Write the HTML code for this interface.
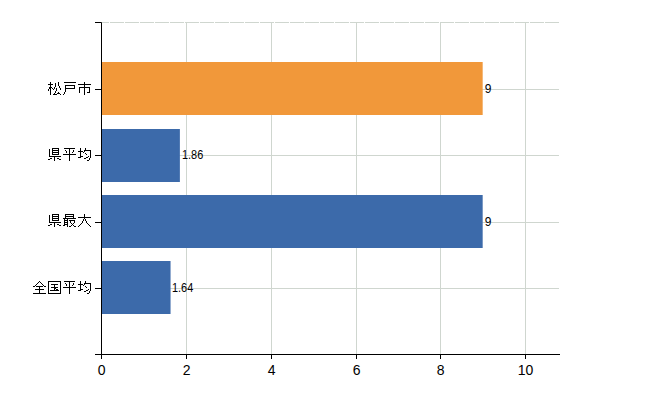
<!DOCTYPE html>
<html><head><meta charset="utf-8"><style>
html,body{margin:0;padding:0;background:#fff;width:650px;height:400px;overflow:hidden}
svg{display:block}
.ax{font-family:"Liberation Sans",sans-serif;font-size:14px;fill:#000}
.vl{font-family:"Liberation Sans",sans-serif;font-size:12px;fill:#000}
line{shape-rendering:crispEdges}
.cj{shape-rendering:crispEdges}
</style></head><body>
<svg width="650" height="400" viewBox="0 0 650 400">
<rect width="650" height="400" fill="#fff"/>
<line x1="186.5" y1="22" x2="186.5" y2="354" stroke="#cfd6cf" />
<line x1="271.5" y1="22" x2="271.5" y2="354" stroke="#cfd6cf" />
<line x1="356.5" y1="22" x2="356.5" y2="354" stroke="#cfd6cf" />
<line x1="440.5" y1="22" x2="440.5" y2="354" stroke="#cfd6cf" />
<line x1="525.5" y1="22" x2="525.5" y2="354" stroke="#cfd6cf" />
<line x1="95" y1="22.5" x2="559" y2="22.5" stroke="#cfd6cf" stroke-dasharray="14 1" />
<line x1="101" y1="89.5" x2="559" y2="89.5" stroke="#cfd6cf" />
<line x1="101" y1="155.5" x2="559" y2="155.5" stroke="#cfd6cf" />
<line x1="101" y1="222.5" x2="559" y2="222.5" stroke="#cfd6cf" />
<line x1="101" y1="288.5" x2="559" y2="288.5" stroke="#cfd6cf" />
<rect x="101" y="62" width="381.67" height="53" fill="#f1983a" />
<rect x="101" y="129" width="78.88" height="53" fill="#3c6aaa" />
<rect x="101" y="195" width="381.67" height="53" fill="#3c6aaa" />
<rect x="101" y="261" width="69.55" height="53" fill="#3c6aaa" />
<path d="M95,22.5H101.5V354.5H95" fill="none" stroke="#000" />
<path d="M101,354.5H560" fill="none" stroke="#000" />
<line x1="101.5" y1="354" x2="101.5" y2="359" stroke="#000" />
<text x="101.6" y="375" text-anchor="middle" class="ax">0</text>
<line x1="186.5" y1="354" x2="186.5" y2="359" stroke="#000" />
<text x="186.6" y="375" text-anchor="middle" class="ax">2</text>
<line x1="271.5" y1="354" x2="271.5" y2="359" stroke="#000" />
<text x="271.6" y="375" text-anchor="middle" class="ax">4</text>
<line x1="356.5" y1="354" x2="356.5" y2="359" stroke="#000" />
<text x="356.6" y="375" text-anchor="middle" class="ax">6</text>
<line x1="440.5" y1="354" x2="440.5" y2="359" stroke="#000" />
<text x="440.6" y="375" text-anchor="middle" class="ax">8</text>
<line x1="525.5" y1="354" x2="525.5" y2="359" stroke="#000" />
<text x="525.6" y="375" text-anchor="middle" class="ax">10</text>
<line x1="95" y1="89.5" x2="101" y2="89.5" stroke="#000" />
<path class="cj" d="M50,82h1v1h-1zM58,82h1v1h-1zM50,83h1v1h-1zM55,83h1v1h-1zM58,83h1v1h-1zM48,84h5v1h-5zM55,84h1v1h-1zM58,84h1v1h-1zM50,85h1v1h-1zM55,85h1v1h-1zM58,85h1v1h-1zM50,86h1v1h-1zM55,86h1v1h-1zM59,86h1v1h-1zM49,87h3v1h-3zM54,87h1v1h-1zM59,87h1v1h-1zM49,88h2v1h-2zM52,88h1v1h-1zM54,88h1v1h-1zM56,88h1v1h-1zM60,88h1v1h-1zM48,89h1v1h-1zM50,89h1v1h-1zM53,89h1v1h-1zM56,89h1v1h-1zM60,89h1v1h-1zM48,90h1v1h-1zM50,90h1v1h-1zM56,90h1v1h-1zM50,91h1v1h-1zM55,91h1v1h-1zM50,92h1v1h-1zM55,92h1v1h-1zM58,92h1v1h-1zM50,93h1v1h-1zM54,93h1v1h-1zM57,93h3v1h-3zM50,94h1v1h-1zM53,94h4v1h-4zM60,94h1v1h-1z" fill="#000"/>
<path class="cj" d="M64,82h12v1h-12zM65,85h10v1h-10zM65,86h1v1h-1zM74,86h1v1h-1zM65,87h1v1h-1zM74,87h1v1h-1zM65,88h10v1h-10zM65,89h1v1h-1zM65,90h1v1h-1zM65,91h1v1h-1zM64,92h1v1h-1zM64,93h1v1h-1zM63,94h1v1h-1z" fill="#000"/>
<path class="cj" d="M84,82h1v1h-1zM84,83h1v1h-1zM78,84h13v1h-13zM84,85h1v1h-1zM84,86h1v1h-1zM79,87h11v1h-11zM79,88h1v1h-1zM84,88h1v1h-1zM89,88h1v1h-1zM79,89h1v1h-1zM84,89h1v1h-1zM89,89h1v1h-1zM79,90h1v1h-1zM84,90h1v1h-1zM89,90h1v1h-1zM79,91h1v1h-1zM84,91h1v1h-1zM89,91h1v1h-1zM79,92h1v1h-1zM84,92h1v1h-1zM87,92h3v1h-3zM84,93h1v1h-1zM84,94h1v1h-1z" fill="#000"/>
<line x1="95" y1="155.5" x2="101" y2="155.5" stroke="#000" />
<path class="cj" d="M52,148h7v1h-7zM49,149h1v1h-1zM52,149h1v1h-1zM58,149h1v1h-1zM49,150h1v1h-1zM52,150h7v1h-7zM49,151h1v1h-1zM52,151h1v1h-1zM58,151h1v1h-1zM49,152h1v1h-1zM52,152h7v1h-7zM49,153h1v1h-1zM52,153h1v1h-1zM58,153h1v1h-1zM49,154h1v1h-1zM52,154h7v1h-7zM49,155h1v1h-1zM49,156h12v1h-12zM54,157h1v1h-1zM50,158h2v1h-2zM54,158h1v1h-1zM57,158h2v1h-2zM48,159h2v1h-2zM54,159h1v1h-1zM59,159h2v1h-2zM54,160h1v1h-1z" fill="#000"/>
<path class="cj" d="M64,148h11v1h-11zM69,149h1v1h-1zM65,150h1v1h-1zM69,150h1v1h-1zM73,150h1v1h-1zM66,151h1v1h-1zM69,151h1v1h-1zM73,151h1v1h-1zM66,152h1v1h-1zM69,152h1v1h-1zM72,152h1v1h-1zM69,153h1v1h-1zM63,154h13v1h-13zM69,155h1v1h-1zM69,156h1v1h-1zM69,157h1v1h-1zM69,158h1v1h-1zM69,159h1v1h-1zM69,160h1v1h-1z" fill="#000"/>
<path class="cj" d="M80,148h1v1h-1zM85,148h1v1h-1zM80,149h1v1h-1zM85,149h1v1h-1zM80,150h1v1h-1zM84,150h7v1h-7zM78,151h5v1h-5zM84,151h1v1h-1zM90,151h1v1h-1zM80,152h1v1h-1zM83,152h1v1h-1zM90,152h1v1h-1zM80,153h1v1h-1zM85,153h1v1h-1zM90,153h1v1h-1zM80,154h1v1h-1zM86,154h1v1h-1zM90,154h1v1h-1zM80,155h1v1h-1zM90,155h1v1h-1zM80,156h3v1h-3zM88,156h1v1h-1zM90,156h1v1h-1zM78,157h3v1h-3zM86,157h2v1h-2zM90,157h1v1h-1zM84,158h2v1h-2zM89,158h1v1h-1zM89,159h1v1h-1zM87,160h2v1h-2z" fill="#000"/>
<line x1="95" y1="222.5" x2="101" y2="222.5" stroke="#000" />
<path class="cj" d="M52,214h7v1h-7zM49,215h1v1h-1zM52,215h1v1h-1zM58,215h1v1h-1zM49,216h1v1h-1zM52,216h7v1h-7zM49,217h1v1h-1zM52,217h1v1h-1zM58,217h1v1h-1zM49,218h1v1h-1zM52,218h7v1h-7zM49,219h1v1h-1zM52,219h1v1h-1zM58,219h1v1h-1zM49,220h1v1h-1zM52,220h7v1h-7zM49,221h1v1h-1zM49,222h12v1h-12zM54,223h1v1h-1zM50,224h2v1h-2zM54,224h1v1h-1zM57,224h2v1h-2zM48,225h2v1h-2zM54,225h1v1h-1zM59,225h2v1h-2zM54,226h1v1h-1z" fill="#000"/>
<path class="cj" d="M65,214h9v1h-9zM65,215h1v1h-1zM73,215h1v1h-1zM65,216h9v1h-9zM65,217h1v1h-1zM73,217h1v1h-1zM63,218h13v1h-13zM64,219h1v1h-1zM67,219h1v1h-1zM64,220h4v1h-4zM69,220h6v1h-6zM64,221h1v1h-1zM67,221h1v1h-1zM70,221h1v1h-1zM74,221h1v1h-1zM64,222h4v1h-4zM70,222h1v1h-1zM74,222h1v1h-1zM64,223h1v1h-1zM67,223h1v1h-1zM71,223h1v1h-1zM73,223h1v1h-1zM64,224h4v1h-4zM72,224h1v1h-1zM63,225h2v1h-2zM67,225h1v1h-1zM71,225h1v1h-1zM73,225h1v1h-1zM67,226h1v1h-1zM69,226h2v1h-2zM74,226h2v1h-2z" fill="#000"/>
<path class="cj" d="M84,214h1v1h-1zM84,215h1v1h-1zM84,216h1v1h-1zM78,217h13v1h-13zM84,218h1v1h-1zM83,219h1v1h-1zM85,219h1v1h-1zM83,220h1v1h-1zM85,220h1v1h-1zM82,221h1v1h-1zM86,221h1v1h-1zM82,222h1v1h-1zM86,222h1v1h-1zM81,223h1v1h-1zM87,223h1v1h-1zM80,224h1v1h-1zM88,224h1v1h-1zM79,225h1v1h-1zM89,225h1v1h-1zM78,226h1v1h-1zM90,226h1v1h-1z" fill="#000"/>
<line x1="95" y1="288.5" x2="101" y2="288.5" stroke="#000" />
<path class="cj" d="M39,281h1v1h-1zM38,282h1v1h-1zM40,282h1v1h-1zM37,283h1v1h-1zM41,283h1v1h-1zM36,284h1v1h-1zM42,284h1v1h-1zM35,285h1v1h-1zM43,285h1v1h-1zM33,286h2v1h-2zM36,286h7v1h-7zM44,286h2v1h-2zM39,287h1v1h-1zM39,288h1v1h-1zM35,289h9v1h-9zM39,290h1v1h-1zM39,291h1v1h-1zM39,292h1v1h-1zM33,293h13v1h-13z" fill="#000"/>
<path class="cj" d="M48,281h13v1h-13zM48,282h1v1h-1zM60,282h1v1h-1zM48,283h1v1h-1zM60,283h1v1h-1zM48,284h1v1h-1zM51,284h7v1h-7zM60,284h1v1h-1zM48,285h1v1h-1zM54,285h1v1h-1zM60,285h1v1h-1zM48,286h1v1h-1zM54,286h1v1h-1zM60,286h1v1h-1zM48,287h1v1h-1zM51,287h7v1h-7zM60,287h1v1h-1zM48,288h1v1h-1zM54,288h2v1h-2zM60,288h1v1h-1zM48,289h1v1h-1zM54,289h1v1h-1zM56,289h2v1h-2zM60,289h1v1h-1zM48,290h1v1h-1zM50,290h9v1h-9zM60,290h1v1h-1zM48,291h1v1h-1zM60,291h1v1h-1zM48,292h1v1h-1zM60,292h1v1h-1zM48,293h13v1h-13z" fill="#000"/>
<path class="cj" d="M64,281h11v1h-11zM69,282h1v1h-1zM65,283h1v1h-1zM69,283h1v1h-1zM73,283h1v1h-1zM66,284h1v1h-1zM69,284h1v1h-1zM73,284h1v1h-1zM66,285h1v1h-1zM69,285h1v1h-1zM72,285h1v1h-1zM69,286h1v1h-1zM63,287h13v1h-13zM69,288h1v1h-1zM69,289h1v1h-1zM69,290h1v1h-1zM69,291h1v1h-1zM69,292h1v1h-1zM69,293h1v1h-1z" fill="#000"/>
<path class="cj" d="M80,281h1v1h-1zM85,281h1v1h-1zM80,282h1v1h-1zM85,282h1v1h-1zM80,283h1v1h-1zM84,283h7v1h-7zM78,284h5v1h-5zM84,284h1v1h-1zM90,284h1v1h-1zM80,285h1v1h-1zM83,285h1v1h-1zM90,285h1v1h-1zM80,286h1v1h-1zM85,286h1v1h-1zM90,286h1v1h-1zM80,287h1v1h-1zM86,287h1v1h-1zM90,287h1v1h-1zM80,288h1v1h-1zM90,288h1v1h-1zM80,289h3v1h-3zM88,289h1v1h-1zM90,289h1v1h-1zM78,290h3v1h-3zM86,290h2v1h-2zM90,290h1v1h-1zM84,291h2v1h-2zM89,291h1v1h-1zM89,292h1v1h-1zM87,293h2v1h-2z" fill="#000"/>
<text x="484.67" y="93" class="vl">9</text>
<text x="181.97" y="159" class="vl" textLength="21.25" lengthAdjust="spacingAndGlyphs">1.86</text>
<text x="484.67" y="226" class="vl">9</text>
<text x="171.97" y="292" class="vl" textLength="21.25" lengthAdjust="spacingAndGlyphs">1.64</text>
</svg>
</body></html>
